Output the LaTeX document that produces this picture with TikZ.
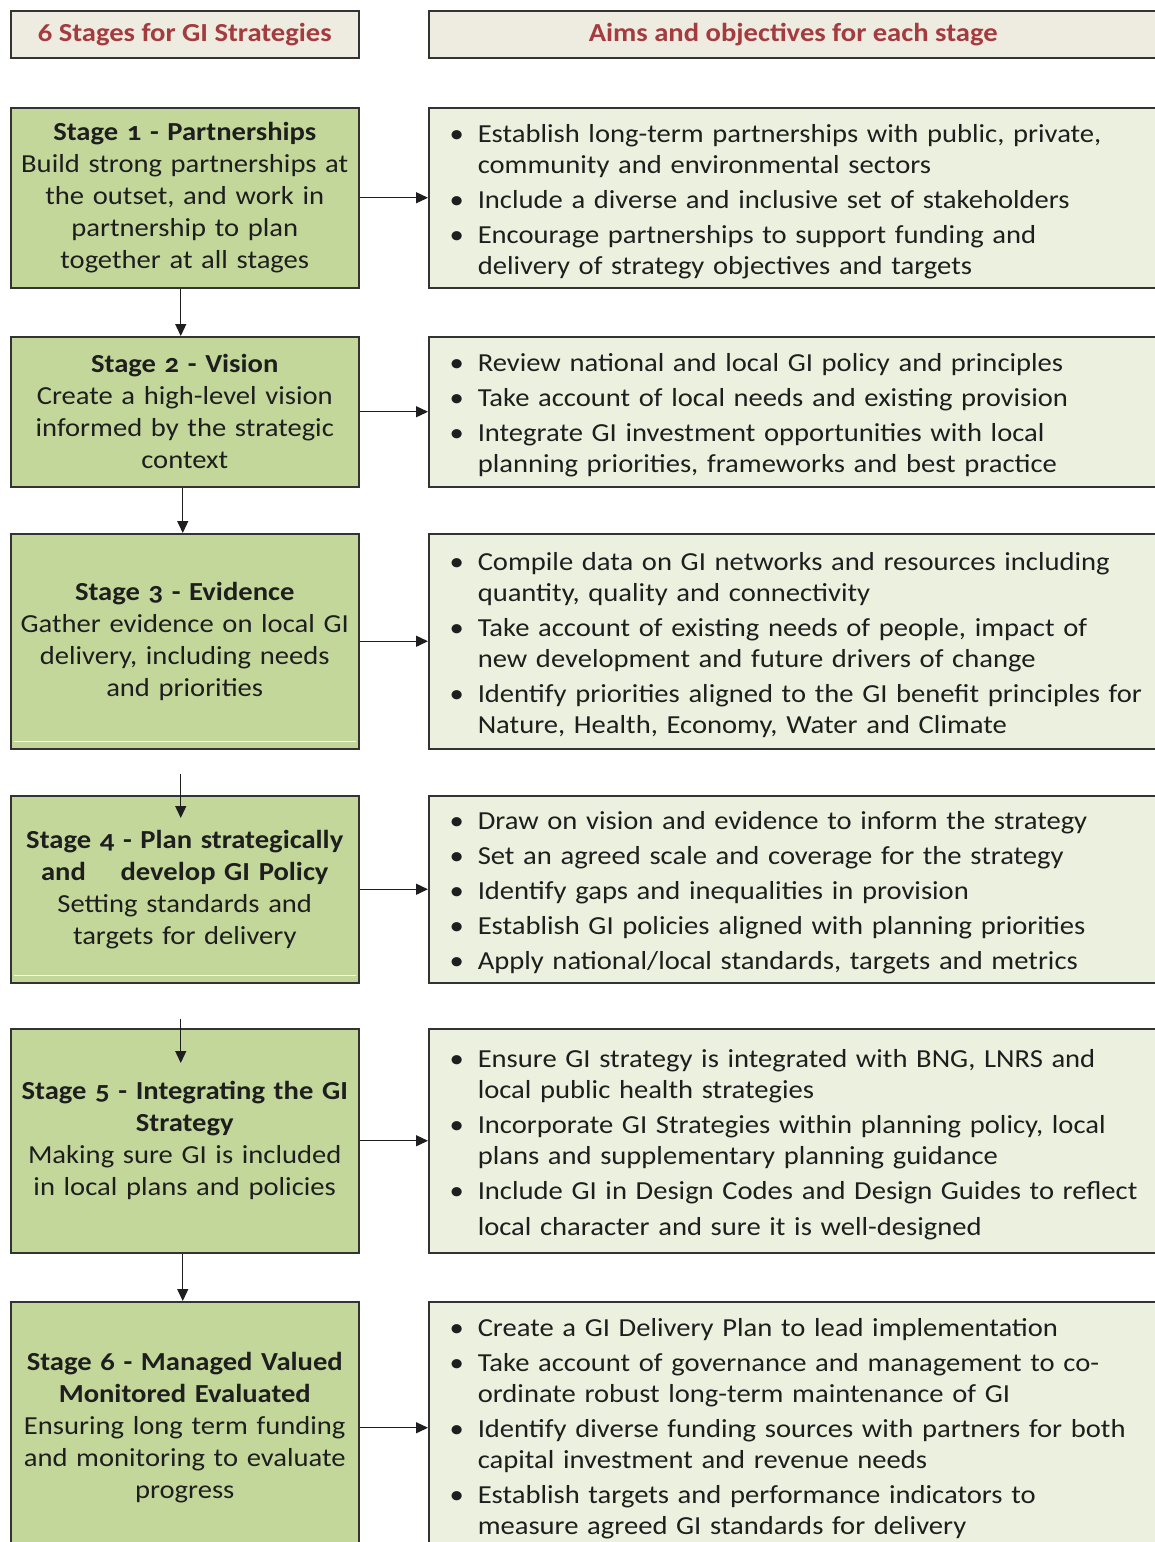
\documentclass[tikz,border=0pt]{standalone}
\usepackage{fontspec}
\setmainfont{Carlito}[Numbers=OldStyle,FakeStretch=1.1]
\usepackage{xcolor}
\usetikzlibrary{arrows.meta}
\definecolor{headfill}{HTML}{EEEBE0}
\definecolor{headtext}{HTML}{A33B3F}
\definecolor{stagefill}{HTML}{C4D79B}
\definecolor{aimfill}{HTML}{EBF1DE}
\definecolor{boxline}{HTML}{333333}
\definecolor{ink}{HTML}{1E1E1E}
\newenvironment{aims}{\begin{list}{\textbullet}{\setlength{\leftmargin}{34pt}\setlength{\labelwidth}{20pt}\setlength{\labelsep}{14pt}\setlength{\itemsep}{4pt}\setlength{\parsep}{0pt}\setlength{\topsep}{0pt}\setlength{\partopsep}{0pt}}}{\end{list}}

\begin{document}
\begin{tikzpicture}[x=1pt,y=-1pt,
    head/.style={draw=boxline,line width=1.5pt,fill=headfill,text=headtext,font=\fontsize{26}{30}\selectfont\bfseries,minimum height=47pt,inner sep=0pt,anchor=north west},
    stage/.style={draw=boxline,line width=1.5pt,fill=stagefill,text=ink,font=\fontsize{26}{32}\selectfont,text width=348pt,align=center,inner sep=0pt,anchor=north west},
    aim/.style={draw=boxline,line width=1.5pt,fill=aimfill,text=ink,font=\fontsize{26}{31}\selectfont,text width=699pt,inner xsep=15pt,inner ysep=0pt,anchor=north west},
    link/.style={-{Triangle[length=12pt,width=11pt]},line width=1.3pt,draw=ink}]
    \useasboundingbox (0,0) rectangle (1155,1542);
    \fill[white] (0,0) rectangle (1155,1542);
    % headers
    \node[head,minimum width=348pt] (H1) at (10,10) {6 Stages for GI Strategies};
    \node[head,minimum width=729pt] (H2) at (428,10) {Aims and objectives for each stage};
    % stages
    \node[stage,minimum height=180pt] (S1) at (10,107) {\textbf{Stage 1 - Partnerships}\\ Build strong partnerships at\\ the outset, and work in\\ partnership to plan\\ together at all stages};
    \node[stage,minimum height=150pt] (S2) at (10,336) {\textbf{Stage 2 - Vision}\\ Create a high-level vision\\ informed by the strategic\\ context};
    \node[stage,minimum height=215pt] (S3) at (10,533) {\textbf{Stage 3 - Evidence}\\ Gather evidence on local GI\\ delivery, including needs\\ and priorities};
    \node[stage,minimum height=187pt] (S4) at (10,795) {\textbf{Stage 4 - Plan strategically}\\ \textbf{and \quad develop GI Policy}\\ Setting standards and\\ targets for delivery};
    \node[stage,minimum height=224pt] (S5) at (10,1028) {\textbf{Stage 5 - Integrating the GI}\\ \textbf{Strategy}\\ Making sure GI is included\\ in local plans and policies};
    \node[stage,minimum height=252pt] (S6) at (10,1301) {\textbf{Stage 6 - Managed Valued}\\ \textbf{Monitored Evaluated}\\ Ensuring long term funding\\ and monitoring to evaluate\\ progress};
    \draw[white,line width=1.5pt] ([xshift=4pt,yshift=8pt]S3.south west) -- ([xshift=-4pt,yshift=8pt]S3.south east);
    \draw[white,line width=1.5pt] ([xshift=4pt,yshift=8pt]S4.south west) -- ([xshift=-4pt,yshift=8pt]S4.south east);
    % aims
    \node[aim,minimum height=180pt] (A1) at (428,107) {\begin{aims}
        \item Establish long-term partnerships with public, private,\\ community and environmental sectors
        \item Include a diverse and inclusive set of stakeholders
        \item Encourage partnerships to support funding and\\ delivery of strategy objectives and targets
        \end{aims}\vspace{6pt}};
    \node[aim,minimum height=150pt] (A2) at (428,336) {\begin{aims}
        \item Review national and local GI policy and principles
        \item Take account of local needs and existing provision
        \item Integrate GI investment opportunities with local\\ planning priorities, frameworks and best practice
        \end{aims}\vspace{6pt}};
    \node[aim,minimum height=215pt] (A3) at (428,533) {\begin{aims}
        \item Compile data on GI networks and resources including\\ quantity, quality and connectivity
        \item Take account of existing needs of people, impact of\\ new development and future drivers of change
        \item Identify priorities aligned to the GI benefit principles for\\ Nature, Health, Economy, Water and Climate
        \end{aims}\vspace{6pt}};
    \node[aim,minimum height=187pt] (A4) at (428,795) {\begin{aims}
        \item Draw on vision and evidence to inform the strategy
        \item Set an agreed scale and coverage for the strategy
        \item Identify gaps and inequalities in provision
        \item Establish GI policies aligned with planning priorities
        \item Apply national/local standards, targets and metrics
        \end{aims}\vspace{6pt}};
    \node[aim,minimum height=224pt] (A5) at (428,1028) {\begin{aims}
        \item Ensure GI strategy is integrated with BNG, LNRS and\\ local public health strategies
        \item Incorporate GI Strategies within planning policy, local\\ plans and supplementary planning guidance
        \item Include GI in Design Codes and Design Guides to reflect\\[5pt] local character and sure it is well-designed
        \end{aims}\vspace{6pt}};
    \node[aim,minimum height=252pt] (A6) at (428,1301) {\begin{aims}
        \item Create a GI Delivery Plan to lead implementation
        \item Take account of governance and management to co-\\ ordinate robust long-term maintenance of GI
        \item Identify diverse funding sources with partners for both\\ capital investment and revenue needs
        \item Establish targets and performance indicators to\\ measure agreed GI standards for delivery
        \end{aims}\vspace{12pt}};
    % arrows
    \draw[link] (S1.east) -- (S1.east -| A1.west);
    \draw[link] (S2.east) -- (S2.east -| A2.west);
    \draw[link] (S3.east) -- (S3.east -| A3.west);
    \draw[link] (S4.east) -- (S4.east -| A4.west);
    \draw[link] (S5.east) -- (S5.east -| A5.west);
    \draw[link] (S6.east) -- (S6.east -| A6.west);
    \draw[link] ([xshift=-4pt]S1.south) -- ([xshift=-4pt]S2.north);
    \draw[link] ([xshift=-2pt]S2.south) -- ([xshift=-2pt]S3.north);
    \draw[link] ([xshift=-4pt,yshift=-24pt]S3.south) -- ([xshift=-4pt,yshift=-23pt]S4.north);
    \draw[link] ([xshift=-4pt,yshift=-35pt]S4.south) -- ([xshift=-4pt,yshift=-35pt]S5.north);
    \draw[link] ([xshift=-2pt]S5.south) -- ([xshift=-2pt]S6.north);
\end{tikzpicture}
\end{document}
